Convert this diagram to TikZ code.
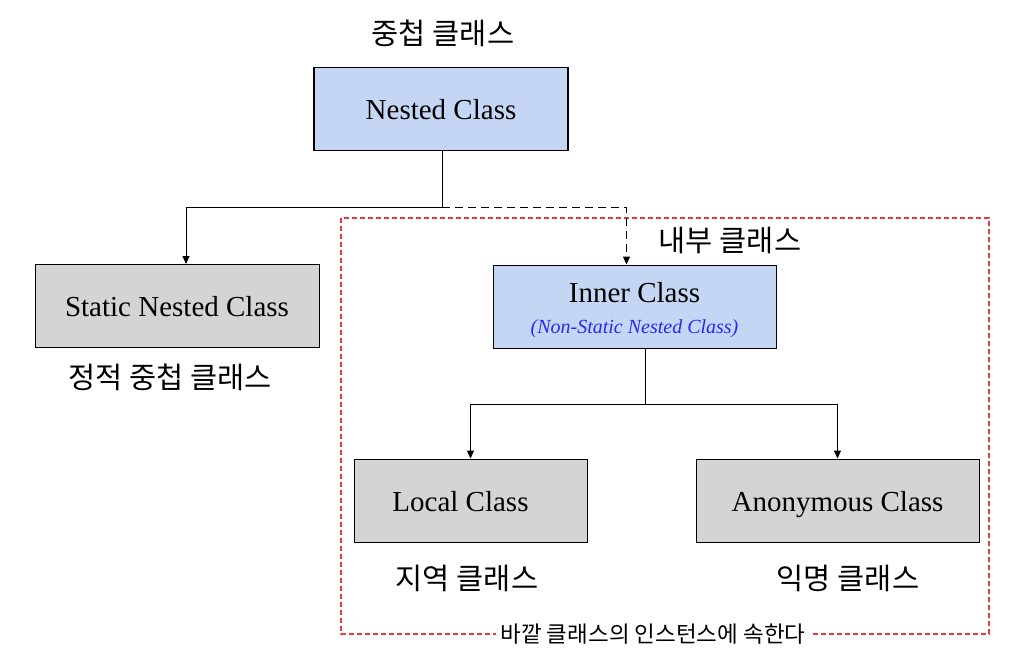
\documentclass[tikz,border=0pt]{standalone}
\usepackage{fontspec}
\setmainfont{Liberation Serif}
\newfontfamily\kr{Noto Sans CJK KR}
\usetikzlibrary{arrows.meta,positioning}
\definecolor{classblue}{RGB}{197,214,244}
\definecolor{classgray}{RGB}{212,212,212}
\definecolor{scopered}{RGB}{232,58,58}
\definecolor{notblue}{RGB}{40,40,240}

\begin{document}
\begin{tikzpicture}[x=1pt,y=-1pt,>={Triangle[length=8pt,width=7pt]},
  box/.style={draw,line width=1pt,minimum width=#1,minimum height=83pt,inner sep=0pt,
    font=\fontsize{29}{34}\selectfont},
  oneline/.style={text height=23pt,text depth=2pt},
  bluebox/.style={box=#1,fill=classblue},
  graybox/.style={box=#1,fill=classgray,oneline},
  krlabel/.style={font=\kr\fontsize{29.5}{34}\selectfont},
  link/.style={line width=1pt}]
   \useasboundingbox (0,0) rectangle (1026,665);
   % scope of inner classes
   \draw[scopered,line width=2pt,dash pattern=on 5pt off 3pt] (341,218) rectangle (989,634);
   \node[fill=white,inner xsep=5pt,inner ysep=1pt,font=\kr\fontsize{22.5}{26}\selectfont] (scope)
      at (653,634) {바깥 클래스의 인스턴스에 속한다};
   % class boxes
   \node[bluebox=254pt,oneline,line width=1.8pt] (nested) at (441,109) {Nested Class};
   \node[graybox=284pt] (static) at (177,306) {Static Nested Class};
   \node[bluebox=283pt,align=center] (inner) at (634.5,306.5)
      {\rule{0pt}{28pt}Inner Class\\[-3pt]{\fontsize{20}{24}\selectfont\itshape\color{notblue}(Non-Static Nested Class)}};
   \node[graybox=233pt] (local) at (470.5,500.5) {\hspace*{-20pt}Local Class};
   \node[graybox=283pt] (anon) at (837.5,500.5) {Anonymous Class};
   % korean labels
   \node[krlabel] (nestedkr) at (443,33) {중첩 클래스};
   \node[krlabel] (statickr) at (170,377) {정적 중첩 클래스};
   \node[krlabel] (innerkr) at (730,240) {내부 클래스};
   \node[krlabel] (localkr) at (467,578) {지역 클래스};
   \node[krlabel] (anonkr) at (848,578) {익명 클래스};
   % connectors
   \coordinate (split) at (442,207);
   \coordinate (fork) at (645,404);
   \draw[link] (nested.south -| split) -- (split);
   \draw[link,->] (split) -| ([xshift=9pt]static.north);
   \draw[link,->,dash pattern=on 8pt off 5pt] (split) -| ([xshift=-8pt]inner.north);
   \draw[link] (inner.south -| fork) -- (fork);
   \draw[link,->] (fork) -| (local.north);
   \draw[link,->] (fork) -| (anon.north);
\end{tikzpicture}
\end{document}
